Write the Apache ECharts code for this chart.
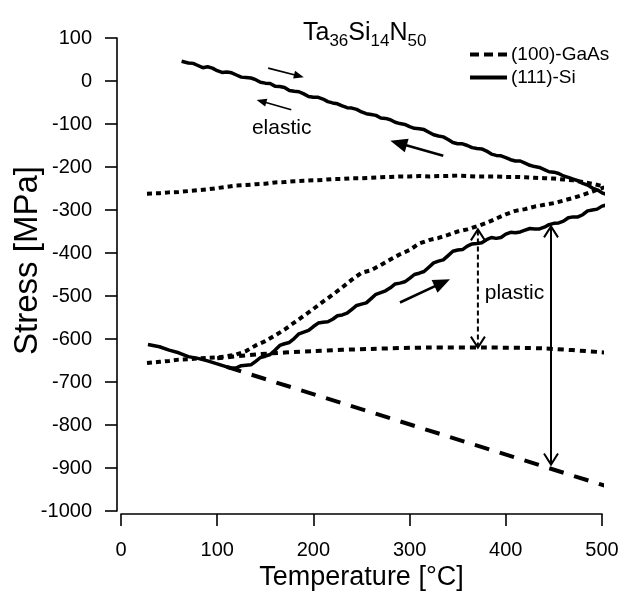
<!DOCTYPE html>
<html>
<head>
<meta charset="utf-8">
<script src="https://cdn.jsdelivr.net/npm/echarts@6/dist/echarts.min.js"></script>
<style>
  html, body { margin: 0; padding: 0; background: #fff; }
  #main { width: 634px; height: 597px; }
</style>
</head>
<body>
<div id="main"></div>
<script>
// (111)-Si, cooling branch (elastic) [T, stress]
let siCool = [
  [63, 46], [65, 44], [70, 42], [75, 41], [80, 36], [85, 31], [90, 33], [95, 30],
  [100, 24], [105, 20], [110, 21], [115, 19], [120, 14], [125, 9], [130, 8], [135, 7],
  [140, 3], [145, -3], [150, -5], [155, -6], [160, -12], [165, -13], [170, -15],
  [175, -22], [180, -24], [185, -25], [190, -30], [195, -36], [200, -38], [205, -38],
  [210, -42], [215, -48], [220, -51], [225, -53], [230, -58], [235, -62], [240, -63],
  [245, -66], [250, -72], [255, -76], [260, -78], [265, -80], [270, -86], [275, -87],
  [280, -90], [285, -96], [290, -99], [295, -101], [300, -106], [305, -110], [310, -111],
  [315, -113], [320, -119], [325, -125], [330, -128], [335, -130], [340, -136],
  [345, -143], [350, -146], [355, -146], [360, -150], [365, -155], [370, -157],
  [375, -158], [380, -163], [385, -170], [390, -173], [395, -174], [400, -178],
  [405, -183], [410, -186], [415, -186], [420, -191], [425, -196], [430, -199],
  [435, -201], [440, -206], [445, -211], [450, -212], [455, -215], [460, -221],
  [465, -224], [470, -228], [475, -232], [480, -238], [485, -242], [490, -249],
  [495, -253], [500, -260], [507, -266]
];
// (111)-Si, heating branch
let siHeat = [
  [28, -613], [40, -618], [50, -626], [60, -632], [70, -641], [80, -645], [90, -651],
  [100, -658], [110, -665], [115, -668], [120, -667], [125, -662], [130, -661],
  [135, -660], [140, -652], [145, -643], [150, -640], [155, -636], [160, -626],
  [165, -615], [170, -611], [175, -608], [180, -599], [185, -588], [190, -584],
  [195, -580], [200, -571], [205, -563], [210, -561], [215, -560], [220, -554],
  [225, -546], [230, -544], [235, -540], [240, -531], [245, -522], [250, -519],
  [255, -516], [260, -506], [265, -496], [270, -492], [275, -488], [280, -481],
  [285, -472], [290, -470], [295, -467], [300, -459], [305, -450], [310, -447],
  [315, -443], [320, -433], [325, -423], [330, -419], [335, -416], [340, -406],
  [345, -396], [350, -393], [355, -392], [360, -384], [365, -379], [370, -378],
  [375, -376], [380, -369], [385, -364], [390, -366], [395, -364], [400, -356],
  [405, -352], [410, -353], [415, -351], [420, -347], [425, -343], [430, -344],
  [435, -344], [440, -340], [445, -334], [450, -331], [455, -330], [460, -326],
  [465, -318], [470, -316], [475, -316], [480, -311], [485, -302], [490, -300],
  [495, -298], [500, -291], [507, -287]
];
// (100)-GaAs, cooling branch
let gaasCool = [
  [27, -262], [40, -261], [50, -259], [60, -258], [70, -256], [80, -254], [90, -252],
  [100, -249], [110, -246], [120, -243], [130, -242], [140, -240], [150, -239],
  [160, -236], [170, -235], [180, -233], [190, -232], [200, -231], [210, -230],
  [220, -228], [230, -228], [240, -226], [250, -226], [260, -225], [270, -224],
  [280, -223], [290, -222], [300, -222], [310, -221], [320, -222], [330, -221],
  [340, -221], [350, -220], [360, -221], [370, -222], [380, -222], [390, -222],
  [400, -223], [410, -223], [420, -224], [430, -225], [440, -226], [450, -227],
  [460, -229], [470, -231], [480, -235], [490, -239], [500, -244], [507, -248]
];
// (100)-GaAs, heating branch
let gaasHeat = [
  [27, -656], [40, -653], [50, -651], [60, -648], [70, -647], [80, -645], [90, -644],
  [100, -643], [110, -640], [120, -636], [130, -628], [140, -615], [150, -605],
  [160, -592], [170, -578], [180, -562], [190, -546], [200, -530], [210, -513],
  [220, -497], [230, -480], [240, -462], [250, -446], [260, -440], [270, -428],
  [280, -415], [290, -403], [300, -393], [310, -378], [320, -370], [330, -365],
  [340, -358], [350, -350], [360, -345], [370, -338], [380, -330], [390, -320],
  [400, -310], [410, -302], [420, -298], [430, -292], [440, -288], [450, -284],
  [460, -278], [470, -272], [480, -265], [490, -257], [500, -249], [507, -245]
];
// GaAs elastic reference line
let gaasRef = [
  [100, -645], [140, -636], [200, -628], [260, -623], [320, -620], [380, -620],
  [440, -622], [507, -632]
];
// Si elastic reference line
let siRef = [[110, -665], [507, -944]];

// annotation arrows: [x1, y1, x2, y2, kind]
let arrows = [
  [153, 30, 190, 9, 'small'],
  [177, -67, 141, -44, 'small'],
  [335, -174, 280, -139, 'big'],
  [290, -515, 342, -461, 'big'],
  [371, -620, 371, -345, 'plasticGaAs'],
  [447, -892, 447, -338, 'plasticSi']
];
// annotation texts: [x, y, text]
let notes = [
  [167, -109, 'elastic'],
  [409, -493, 'plastic']
];

const FONT = '"Liberation Sans", Arial, sans-serif';

var myChart = echarts.init(document.getElementById('main'));

function arrowRender(params, api) {
  let a = arrows[params.dataIndex];
  let p1 = api.coord([a[0], a[1]]);
  let p2 = api.coord([a[2], a[3]]);
  let dx = p2[0] - p1[0], dy = p2[1] - p1[1];
  let len = Math.sqrt(dx * dx + dy * dy);
  let ux = dx / len, uy = dy / len;
  let nx = -uy, ny = ux;
  let children = [];

  function head(tip, dirx, diry, L, W, filled) {
    let bx = tip[0] - dirx * L, by = tip[1] - diry * L;
    let c1 = [bx + nx * W / 2, by + ny * W / 2];
    let c2 = [bx - nx * W / 2, by - ny * W / 2];
    if (filled) {
      return { type: 'polygon', shape: { points: [tip, c1, c2] }, style: { fill: '#000' } };
    }
    return { type: 'polyline', shape: { points: [c1, tip, c2] }, style: { stroke: '#000', lineWidth: 2, fill: null } };
  }

  if (a[4] === 'small') {
    let end = [p2[0] - ux * 6, p2[1] - uy * 6];
    children.push({ type: 'line', shape: { x1: p1[0], y1: p1[1], x2: end[0], y2: end[1] }, style: { stroke: '#000', lineWidth: 1.6 } });
    children.push(head(p2, ux, uy, 10, 8, true));
  } else if (a[4] === 'big') {
    let end = [p2[0] - ux * 10, p2[1] - uy * 10];
    children.push({ type: 'line', shape: { x1: p1[0], y1: p1[1], x2: end[0], y2: end[1] }, style: { stroke: '#000', lineWidth: 2.6 } });
    children.push(head(p2, ux, uy, 17, 14, true));
  } else {
    let dashed = a[4] === 'plasticGaAs';
    children.push({ type: 'line', shape: { x1: p1[0], y1: p1[1], x2: p2[0], y2: p2[1] },
      style: { stroke: '#000', lineWidth: 2, lineDash: dashed ? [5, 3] : null } });
    children.push(head(p2, ux, uy, 11, 14, false));
    children.push(head(p1, -ux, -uy, 11, 14, false));
  }
  return { type: 'group', children: children };
}

function noteRender(params, api) {
  let n = notes[params.dataIndex];
  let p = api.coord([n[0], n[1]]);
  return {
    type: 'text',
    x: p[0], y: p[1],
    style: { text: n[2], fill: '#000', font: '21px ' + FONT, align: 'center', verticalAlign: 'middle' }
  };
}

var option = {
  animation: false,
  backgroundColor: '#fff',
  color: ['#000'],
  textStyle: { fontFamily: FONT, color: '#000' },
  title: {
    left: 298, top: 16,
    text: '{a|Ta}{s|36}{a|Si}{s|14}{a|N}{s|50}',
    textStyle: {
      fontWeight: 'normal',
      rich: {
        a: { fontSize: 25, fontFamily: FONT, fontWeight: 'normal', color: '#000', lineHeight: 26, verticalAlign: 'top' },
        s: { fontSize: 17, fontFamily: FONT, fontWeight: 'normal', color: '#000', lineHeight: 17, verticalAlign: 'top', padding: [12, 0, 0, 0] }
      }
    }
  },
  legend: {
    data: [
      { name: '(100)-GaAs', icon: 'path://M0,0h9v4h-9z M14,0h9v4h-9z M28,0h9v4h-9z' },
      { name: '(111)-Si', icon: 'path://M0,0h37v4h-37z' }
    ],
    orient: 'vertical',
    left: 465, top: 40,
    itemWidth: 37, itemHeight: 4, itemGap: 4,
    itemStyle: { color: '#000' },
    textStyle: { fontSize: 19, fontFamily: FONT, color: '#000', padding: [0, 0, 0, -1] }
  },
  grid: { left: 121, right: 32, top: 38, bottom: 86, outerBoundsMode: 'none' },
  xAxis: {
    type: 'value', min: 0, max: 500, interval: 100, offset: 3,
    name: 'Temperature [°C]', nameLocation: 'middle', nameGap: 50, nameMoveOverlap: false,
    nameTextStyle: { fontSize: 27, fontFamily: FONT, color: '#000' },
    axisLine: { onZero: false, lineStyle: { color: '#000', width: 1.6 } },
    axisTick: { inside: false, length: 12, lineStyle: { color: '#000', width: 1.6 } },
    axisLabel: { fontSize: 20, color: '#000', margin: 26, fontFamily: FONT },
    splitLine: { show: false }
  },
  yAxis: {
    type: 'value', min: -1000, max: 100, interval: 100, offset: 4,
    name: 'Stress [MPa]', nameLocation: 'middle', nameGap: 73, nameMoveOverlap: false,
    nameTextStyle: { fontSize: 33, fontFamily: FONT, color: '#000', padding: [0, 0, 0, 28] },
    axisLine: { show: true, onZero: false, lineStyle: { color: '#000', width: 1.6 } },
    axisTick: { show: true, length: 12, lineStyle: { color: '#000', width: 1.6 } },
    axisLabel: { fontSize: 20, color: '#000', margin: 25, fontFamily: FONT,
      formatter: function (v) { return String(v); } },
    splitLine: { show: false }
  },
  series: [
    { name: '(100)-GaAs', type: 'line', data: gaasCool, showSymbol: false, symbol: 'none', clip: false,
      itemStyle: { color: '#000' }, lineStyle: { color: '#000', width: 4, type: [5, 4] } },
    { name: '(100)-GaAs', type: 'line', data: gaasHeat, showSymbol: false, symbol: 'none', clip: false,
      itemStyle: { color: '#000' }, lineStyle: { color: '#000', width: 4, type: [5, 4] } },
    { name: 'GaAs elastic', type: 'line', data: gaasRef, showSymbol: false, symbol: 'none', smooth: 0.3, clip: false,
      lineStyle: { color: '#000', width: 4, type: [6, 5] } },
    { name: '(111)-Si', type: 'line', data: siCool, showSymbol: false, symbol: 'none', clip: false,
      itemStyle: { color: '#000' }, lineStyle: { color: '#000', width: 3.5 } },
    { name: '(111)-Si', type: 'line', data: siHeat, showSymbol: false, symbol: 'none', clip: false,
      itemStyle: { color: '#000' }, lineStyle: { color: '#000', width: 3.5 } },
    { name: 'Si elastic', type: 'line', data: siRef, showSymbol: false, symbol: 'none', clip: false,
      lineStyle: { color: '#000', width: 4, type: [15, 11] } },
    { name: 'arrows', type: 'custom', data: arrows.map(function (a) { return [a[0], a[1]]; }),
      renderItem: arrowRender, silent: true, clip: false },
    { name: 'notes', type: 'custom', data: notes.map(function (n) { return [n[0], n[1]]; }),
      renderItem: noteRender, silent: true, clip: false }
  ]
};

myChart.setOption(option);
</script>
</body>
</html>
